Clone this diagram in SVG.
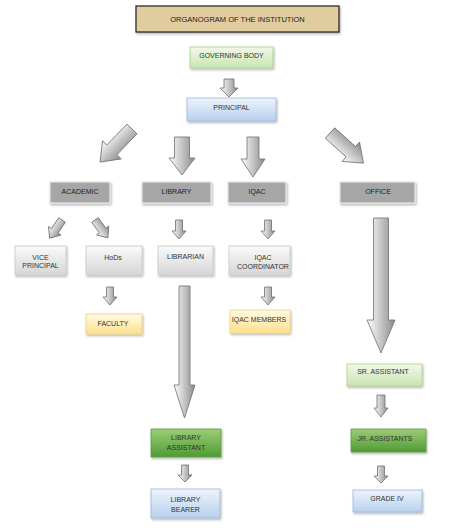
<svg xmlns="http://www.w3.org/2000/svg" width="474" height="531" viewBox="0 0 474 531">
<defs>
<linearGradient id="gArrow" x1="0" y1="0" x2="1" y2="0"><stop offset="0" stop-color="#ffffff"/><stop offset="1" stop-color="#8a8a8a"/></linearGradient>
<linearGradient id="gGreenL" x1="0" y1="0" x2="0" y2="1"><stop offset="0" stop-color="#f1f8e9"/><stop offset="1" stop-color="#c9e4b2"/></linearGradient>
<linearGradient id="gGreenD" x1="0" y1="0" x2="0" y2="1"><stop offset="0" stop-color="#9ccd78"/><stop offset="1" stop-color="#4f9b34"/></linearGradient>
<linearGradient id="gBlue" x1="0" y1="0" x2="0" y2="1"><stop offset="0" stop-color="#eef4fb"/><stop offset="1" stop-color="#b7d0ee"/></linearGradient>
<linearGradient id="gGrayL" x1="0" y1="0" x2="0" y2="1"><stop offset="0" stop-color="#fafafa"/><stop offset="1" stop-color="#d6d6d6"/></linearGradient>
<linearGradient id="gYellow" x1="0" y1="0" x2="0" y2="1"><stop offset="0" stop-color="#fffbe6"/><stop offset="1" stop-color="#ffe08c"/></linearGradient>
<filter id="sh" x="-20%" y="-20%" width="150%" height="160%"><feDropShadow dx="1" dy="1.5" stdDeviation="0.8" flood-color="#000" flood-opacity="0.3"/></filter>
</defs>
<style>
text{font-family:"Liberation Sans",Arial,sans-serif;font-size:7px;fill:#333;text-anchor:middle}
.t{font-size:7.5px;fill:#222}
.arr{fill:url(#gArrow);stroke:#6e6e6e;stroke-width:0.8;stroke-linejoin:miter}
.title{fill:#e0cc9f;stroke:#1e1e1e;stroke-width:1.2}
.gl{fill:url(#gGreenL);stroke:#a9cf8d;stroke-width:0.8}
.gd{fill:url(#gGreenD);stroke:#5d9c42;stroke-width:0.8}
.bl{fill:url(#gBlue);stroke:#9bb7da;stroke-width:0.8}
.gr{fill:#a6a6a6;stroke:#e6e6e6;stroke-width:1.2}
.lg{fill:url(#gGrayL);stroke:#c8c8c8;stroke-width:0.8}
.ye{fill:url(#gYellow);stroke:#f0d27a;stroke-width:0.8}
</style>
<g id="title"><rect class="title" x="136" y="6" width="203" height="26" filter="url(#sh)"/><text class="t" x="237.5" y="22">ORGANOGRAM OF THE INSTITUTION</text></g>
<g id="connectors">
<path class="arr" d="M224,79 H234 V88 H238 L229,97 L220,88 H224 Z"/>
<path class="arr" transform="translate(132,129) rotate(44)" d="M-7,0 H7 V29 H13 L0,46 L-13,29 H-7 Z"/>
<path class="arr" d="M174.5,137 H189.5 V158 H195 L182,175 L169,158 H174.5 Z"/>
<path class="arr" d="M247,137 H259 V159 H265 L253,177 L241,159 H247 Z"/>
<path class="arr" transform="translate(330,133) rotate(-48)" d="M-7,0 H7 V28 H13 L0,45 L-13,28 H-7 Z"/>
<path class="arr" transform="translate(62,220) rotate(34)" d="M-4,0 H4 V13 H7.5 L0,22 L-7.5,13 H-4 Z"/>
<path class="arr" transform="translate(95,220) rotate(-36)" d="M-4,0 H4 V13 H7.5 L0,22 L-7.5,13 H-4 Z"/>
<path class="arr" d="M175.5,220 H182.5 V231 H186 L179,239 L172,231 H175.5 Z"/>
<path class="arr" d="M264.5,220 H271.5 V231 H275 L268,239 L261,231 H264.5 Z"/>
<path class="arr" d="M106.5,287 H113.5 V297 H117 L110,305 L103,297 H106.5 Z"/>
<path class="arr" d="M264.5,287 H271.5 V297 H275 L268,305 L261,297 H264.5 Z"/>
<path class="arr" d="M179,286 H190 V385 H195 L184.5,418 L174,385 H179 Z"/>
<path class="arr" d="M373.5,218 H388.5 V320 H395 L381,353 L367,320 H373.5 Z"/>
<path class="arr" d="M181.5,465 H188.5 V475 H192 L185,482 L178,475 H181.5 Z"/>
<path class="arr" d="M377,395 H385 V408 H388 L381,417 L374,408 H377 Z"/>
<path class="arr" d="M377.5,466 H384.5 V476 H388 L381,483 L374,476 H377.5 Z"/>
</g>
<g id="governing-body"><rect class="gl" x="190" y="47" width="83" height="21" filter="url(#sh)"/><text x="231.5" y="57.5">GOVERNING BODY</text></g>
<g id="principal"><rect class="bl" x="187" y="98" width="89" height="23" filter="url(#sh)"/><text x="231.5" y="109.5">PRINCIPAL</text></g>
<g id="academic"><rect class="gr" x="50" y="182" width="60" height="21" filter="url(#sh)"/><text x="80" y="193.5" style="fill:#222">ACADEMIC</text></g>
<g id="library"><rect class="gr" x="142" y="182" width="69" height="21" filter="url(#sh)"/><text x="176.5" y="193.5" style="fill:#222">LIBRARY</text></g>
<g id="iqac"><rect class="gr" x="228" y="182" width="58" height="21" filter="url(#sh)"/><text x="257" y="193.5" style="fill:#222">IQAC</text></g>
<g id="office"><rect class="gr" x="340" y="182" width="75" height="21" filter="url(#sh)"/><text x="378" y="193.5" style="fill:#222">OFFICE</text></g>
<g id="vice-principal"><rect class="lg" x="15" y="246" width="51" height="29" filter="url(#sh)"/><text x="40.5" y="259.5">VICE</text><text x="40.5" y="268">PRINCIPAL</text></g>
<g id="hods"><rect class="lg" x="86" y="246" width="56" height="29" filter="url(#sh)"/><text x="113" y="259.5">HoDs</text></g>
<g id="librarian"><rect class="lg" x="158" y="246" width="55" height="29" filter="url(#sh)"/><text x="185.5" y="258.5">LIBRARIAN</text></g>
<g id="iqac-coordinator"><rect class="lg" x="229" y="246" width="61" height="29" filter="url(#sh)"/><text x="263" y="259.5">IQAC</text><text x="263" y="268.5">COORDINATOR</text></g>
<g id="faculty"><rect class="ye" x="86" y="314" width="56" height="20" filter="url(#sh)"/><text x="113" y="325.5">FACULTY</text></g>
<g id="iqac-members"><rect class="ye" x="230" y="310" width="60" height="23" filter="url(#sh)"/><text x="259" y="321.5">IQAC MEMBERS</text></g>
<g id="library-assistant"><rect class="gd" x="151" y="429" width="70" height="28" filter="url(#sh)"/><text x="186" y="439.5">LIBRARY</text><text x="186" y="449.5">ASSISTANT</text></g>
<g id="library-bearer"><rect class="bl" x="151" y="489" width="69" height="29" filter="url(#sh)"/><text x="185.5" y="501.5">LIBRARY</text><text x="185.5" y="511.5">BEARER</text></g>
<g id="sr-assistant"><rect class="gl" x="347" y="364" width="75" height="22" filter="url(#sh)"/><text x="383" y="373.5">SR. ASSISTANT</text></g>
<g id="jr-assistants"><rect class="gd" x="351" y="429" width="75" height="23" filter="url(#sh)"/><text x="385" y="440.5">JR. ASSISTANTS</text></g>
<g id="grade-iv"><rect class="bl" x="353" y="490" width="69" height="22" filter="url(#sh)"/><text x="387" y="500.5">GRADE IV</text></g>
</svg>
